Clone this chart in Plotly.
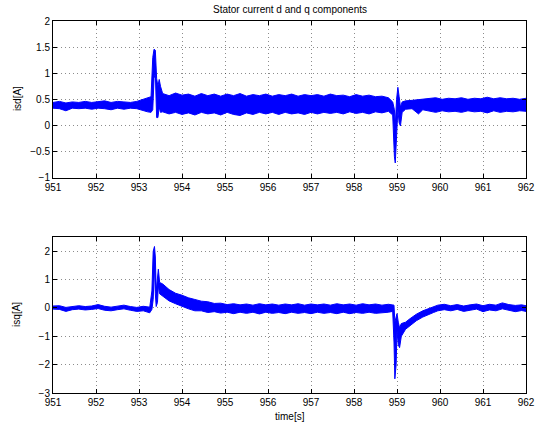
import plotly.graph_objects as go

# ---- isd (top panel): upper / lower edge of the noisy trace ----
t_d = [951.0, 951.15, 951.3, 951.45, 951.6, 951.75, 951.9, 952.05, 952.2, 952.35,
       952.5, 952.65, 952.8, 952.95, 953.1, 953.2, 953.28,
       953.32, 953.35, 953.38, 953.41, 953.44, 953.47, 953.5,
       953.55, 953.7, 953.85, 954.0, 954.15, 954.3, 954.45, 954.6, 954.75, 954.9,
       955.05, 955.2, 955.35, 955.5, 955.65, 955.8, 955.95, 956.1, 956.25, 956.4,
       956.55, 956.7, 956.85, 957.0, 957.15, 957.3, 957.45, 957.6, 957.75, 957.9,
       958.05, 958.2, 958.35, 958.5, 958.65, 958.8,
       958.9, 958.94, 958.96, 958.99, 959.02, 959.05, 959.08, 959.12,
       959.2, 959.35, 959.5, 959.6,
       959.75, 959.9, 960.05, 960.2, 960.35, 960.5, 960.65, 960.8, 960.95, 961.1,
       961.25, 961.4, 961.55, 961.7, 961.85, 962.0]
isd_hi = [0.44, 0.46, 0.43, 0.45, 0.44, 0.46, 0.44, 0.45, 0.47, 0.44,
          0.46, 0.45, 0.44, 0.46, 0.50, 0.52, 0.55,
          1.30, 1.46, 1.44, 0.90, 0.75, 0.88, 0.75,
          0.61, 0.57, 0.62, 0.58, 0.60, 0.56, 0.61, 0.57, 0.60, 0.56,
          0.60, 0.57, 0.61, 0.56, 0.59, 0.57, 0.60, 0.56, 0.59, 0.57,
          0.60, 0.56, 0.59, 0.57, 0.59, 0.56, 0.60, 0.57, 0.58, 0.55,
          0.59, 0.56, 0.58, 0.55, 0.56, 0.53,
          0.45, 0.30, 0.00, 0.50, 0.73, 0.55, 0.35, 0.45,
          0.47, 0.48, 0.49, 0.50,
          0.51, 0.53, 0.50, 0.52, 0.51, 0.53, 0.50, 0.52, 0.51, 0.54,
          0.51, 0.53, 0.51, 0.52, 0.50, 0.52]
isd_lo = [0.33, 0.32, 0.28, 0.33, 0.32, 0.33, 0.31, 0.33, 0.32, 0.30,
          0.33, 0.31, 0.33, 0.32, 0.28, 0.26, 0.25,
          0.30, 0.90, 1.00, 0.15, 0.15, 0.35, 0.25,
          0.26, 0.22, 0.25, 0.21, 0.24, 0.20, 0.25, 0.22, 0.24, 0.20,
          0.25, 0.21, 0.19, 0.24, 0.21, 0.25, 0.22, 0.25, 0.21, 0.25,
          0.22, 0.24, 0.21, 0.25, 0.22, 0.25, 0.23, 0.25, 0.22, 0.26,
          0.23, 0.25, 0.22, 0.26, 0.24, 0.27,
          0.20, -0.60, -0.72, -0.30, 0.30, 0.05, -0.01, 0.25,
          0.31, 0.32, 0.22, 0.30,
          0.27, 0.25, 0.28, 0.26, 0.27, 0.25, 0.28, 0.26, 0.27, 0.24,
          0.28, 0.25, 0.27, 0.26, 0.28, 0.27]

# ---- isq (bottom panel) ----
t_q = [951.0, 951.15, 951.3, 951.45, 951.6, 951.75, 951.9, 952.05, 952.2, 952.35,
       952.5, 952.65, 952.8, 952.95, 953.1, 953.25,
       953.3, 953.33, 953.36, 953.38, 953.40, 953.43, 953.45, 953.48, 953.55,
       953.7, 953.85, 954.0, 954.15, 954.3, 954.45, 954.6, 954.75, 954.9, 955.05,
       955.2, 955.35, 955.5, 955.65, 955.8, 955.95, 956.1, 956.25, 956.4, 956.55,
       956.7, 956.85, 957.0, 957.15, 957.3, 957.45, 957.6, 957.75, 957.9, 958.05,
       958.2, 958.35, 958.5, 958.65, 958.8,
       958.9, 958.93, 958.95, 958.98, 959.0, 959.03, 959.06, 959.1,
       959.2, 959.3, 959.45, 959.6, 959.75, 959.85, 959.95,
       960.1, 960.25, 960.4, 960.55, 960.7, 960.85, 961.0, 961.15, 961.3, 961.45,
       961.6, 961.75, 961.9, 962.0]
isq_hi = [0.07, 0.08, 0.02, 0.06, 0.08, 0.05, 0.07, 0.12, 0.06, 0.03,
          0.06, 0.10, 0.05, 0.02, 0.06, 0.03,
          0.60, 2.00, 2.17, 1.80, 0.60, 1.20, 1.37, 0.90, 0.85,
          0.65, 0.52, 0.45, 0.36, 0.30, 0.24, 0.22, 0.16, 0.17, 0.12,
          0.15, 0.11, 0.14, 0.10, 0.15, 0.11, 0.14, 0.10, 0.14, 0.11,
          0.15, 0.10, 0.14, 0.11, 0.14, 0.10, 0.15, 0.11, 0.14, 0.10,
          0.15, 0.11, 0.14, 0.10, 0.13,
          0.12, 0.10, -0.50, -0.30, -0.20, -0.50, -0.70, -0.55,
          -0.50, -0.38, -0.22, -0.10, -0.02, 0.05, 0.10,
          0.13, 0.08, 0.12, 0.07, 0.11, 0.14, 0.08, 0.13, 0.10, 0.18,
          0.12, 0.09, 0.11, 0.08]
isq_lo = [-0.04, -0.05, -0.12, -0.06, -0.04, -0.07, -0.05, -0.02, -0.08, -0.10,
          -0.06, -0.03, -0.08, -0.12, -0.10, -0.17,
          -0.05, 0.30, 1.50, 0.50, 0.05, 0.20, 0.80, 0.50, 0.40,
          0.25, 0.15, 0.05, -0.03, -0.10, -0.10, -0.16, -0.13, -0.18, -0.15,
          -0.20, -0.15, -0.19, -0.15, -0.21, -0.15, -0.19, -0.16, -0.20, -0.15,
          -0.19, -0.16, -0.20, -0.15, -0.19, -0.16, -0.20, -0.15, -0.20, -0.16,
          -0.19, -0.15, -0.19, -0.16, -0.15,
          -0.12, -1.20, -2.50, -2.00, -0.80, -1.30, -1.40, -1.00,
          -0.75, -0.62, -0.45, -0.32, -0.22, -0.16, -0.10,
          -0.06, -0.10, -0.05, -0.12, -0.08, -0.04, -0.13, -0.07, -0.10, -0.03,
          -0.08, -0.13, -0.09, -0.12]

x_ticks = list(range(951, 963))
isd_ticks = [-1, -0.5, 0, 0.5, 1, 1.5, 2]
isq_ticks = [-3, -2, -1, 0, 1, 2]

BLUE = "rgb(0,0,255)"
FONT = "Liberation Sans, Arial, Helvetica, sans-serif"

fig = go.Figure()
fig.add_trace(go.Scatter(x=t_d + t_d[::-1], y=isd_hi + isd_lo[::-1],
                         mode="lines", fill="toself", fillcolor=BLUE,
                         line=dict(color=BLUE, width=1), xaxis="x", yaxis="y",
                         showlegend=False, hoverinfo="skip"))
fig.add_trace(go.Scatter(x=t_q + t_q[::-1], y=isq_hi + isq_lo[::-1],
                         mode="lines", fill="toself", fillcolor=BLUE,
                         line=dict(color=BLUE, width=1), xaxis="x2", yaxis="y2",
                         showlegend=False, hoverinfo="skip"))

common_axis = dict(showline=True, linecolor="black", linewidth=1, mirror="allticks",
                   ticks="inside", ticklen=4, tickcolor="black", tickwidth=1,
                   showgrid=True, gridcolor="rgba(0,0,0,0.45)", griddash="1px,3px",
                   gridwidth=1, zeroline=False, automargin=False,
                   tickfont=dict(family=FONT, size=10, color="black"))

fig.update_layout(
    width=543, height=428,
    margin=dict(l=53, r=17, t=21, b=35),
    paper_bgcolor="white", plot_bgcolor="white",
    font=dict(family=FONT, size=10, color="black"),
    xaxis=dict(domain=[0, 1], range=[951, 962], tickvals=x_ticks, anchor="y", **common_axis),
    yaxis=dict(domain=[0.579, 1], range=[-1, 2], tickvals=isd_ticks, anchor="x", **common_axis),
    xaxis2=dict(domain=[0, 1], range=[951, 962], tickvals=x_ticks, anchor="y2", **common_axis),
    yaxis2=dict(domain=[0, 0.419], range=[-3, 2.5], tickvals=isq_ticks, anchor="x2", **common_axis),
    annotations=[
        dict(text="Stator current d and q components", xref="paper", yref="paper",
             x=0.5, y=1, yshift=12, yanchor="middle", showarrow=False, font=dict(size=10)),
        dict(text="isd[A]", xref="paper", yref="paper", x=0, y=0.79, xshift=-36,
             xanchor="center", yanchor="middle",
             textangle=-90, showarrow=False, font=dict(size=10)),
        dict(text="isq[A]", xref="paper", yref="paper", x=0, y=0.21, xshift=-36,
             xanchor="center", yanchor="middle",
             textangle=-90, showarrow=False, font=dict(size=10)),
        dict(text="time[s]", xref="paper", yref="paper", x=0.5, y=0, yshift=-23,
             yanchor="middle", showarrow=False, font=dict(size=10)),
    ],
)

# remove the browser's default 8 px body margin so the figure fills the window
fig.write_html("out.html", config={"displayModeBar": False},
               post_script="document.body.style.margin='0';")
